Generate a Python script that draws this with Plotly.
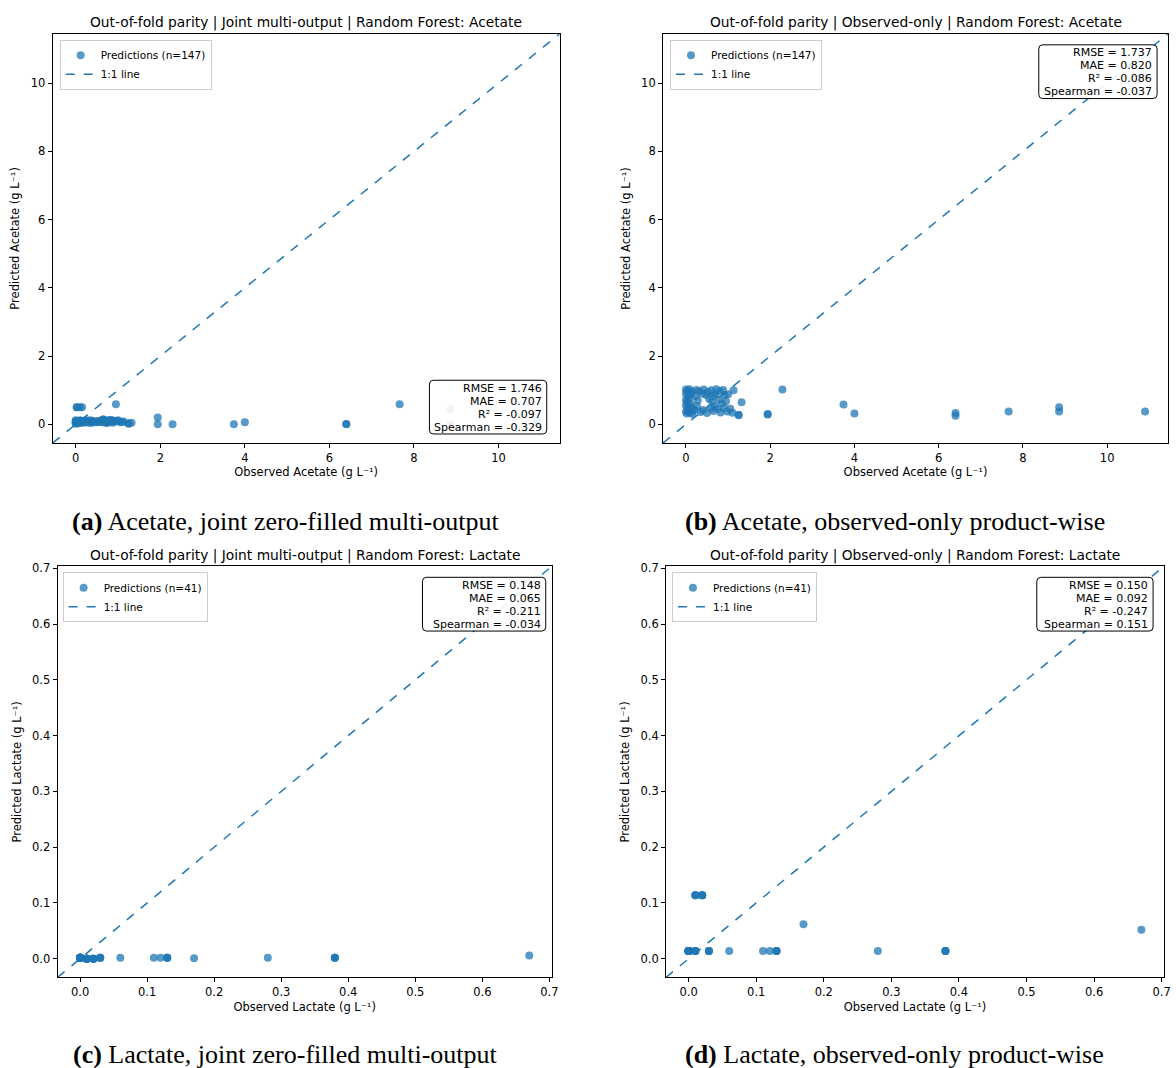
import plotly.graph_objects as go

W, H = 1176, 1068
BLUE = "#1f77b4"

# ---------------- data ----------------
acetate_observed = [
    0.00, 0.03, 0.08, 0.15, 0.25, 0.32, 0.42, 0.52, 0.60, 0.72, 0.80, 0.88, 1.13,
    0.00, 0.05, 0.12, 0.22, 0.38, 0.48, 0.65, 0.70, 0.92, 1.00,
    0.00, 0.02, 0.07, 0.10, 0.28, 0.55, 0.62, 0.78, 0.85, 0.95,
    0.00, 0.04, 0.10, 0.18, 0.26, 0.58, 0.68, 0.75, 0.90, 1.05,
    0.00, 0.02, 0.06, 0.10, 0.15, 0.20, 0.35, 0.40, 0.50, 0.65, 0.82, 0.98, 1.10,
    1.25, 1.25, 1.32, 1.94, 1.94, 2.29, 3.74, 4.00, 6.40, 6.40, 7.66, 8.86, 8.86, 10.90,
]
acetate_pred_joint = [
    0.05, 0.50, 0.10, 0.08, 0.12, 0.04, 0.09, 0.06, 0.11, 0.07, 0.13, 0.05, 0.08,
    0.08, 0.03, 0.11, 0.06, 0.10, 0.07, 0.14, 0.05, 0.09, 0.12,
    0.12, 0.50, 0.09, 0.04, 0.08, 0.10, 0.06, 0.11, 0.13, 0.59,
    0.02, 0.07, 0.50, 0.05, 0.10, 0.08, 0.12, 0.04, 0.10, 0.06,
    0.06, 0.09, 0.03, 0.11, 0.50, 0.07, 0.12, 0.05, 0.09, 0.14, 0.08, 0.10, 0.07,
    0.02, 0.03, 0.05, 0.20, 0.00, 0.00, 0.00, 0.06, 0.00, 0.01, 0.59, 0.44, 0.00, 0.10,
]
acetate_pred_observed_only = [
    1.02, 0.98, 1.03, 0.96, 1.01, 0.97, 1.02, 0.95, 1.00, 1.03, 0.97, 1.01, 1.00,
    0.90, 0.84, 0.88, 0.82, 0.90, 0.86, 0.83, 0.89, 0.85, 0.88,
    0.72, 0.65, 0.76, 0.62, 0.70, 0.74, 0.66, 0.72, 0.62, 0.68,
    0.55, 0.48, 0.52, 0.45, 0.54, 0.47, 0.52, 0.45, 0.48, 0.46,
    0.38, 0.32, 0.40, 0.35, 0.30, 0.41, 0.36, 0.42, 0.33, 0.39, 0.35, 0.38, 0.34,
    0.27, 0.28, 0.65, 0.29, 0.30, 1.02, 0.58, 0.32, 0.33, 0.25, 0.38, 0.50, 0.38, 0.38,
]

lactate_observed = [
    0.00, 0.00, 0.00, 0.00, 0.00, 0.00, 0.00, 0.00, 0.00, 0.00, 0.00, 0.00, 0.00, 0.00, 0.00, 0.00,
    0.01, 0.01, 0.01, 0.01, 0.01, 0.01,
    0.02, 0.02, 0.02, 0.02,
    0.03, 0.03, 0.03,
    0.06, 0.11, 0.12, 0.13, 0.13, 0.13, 0.17, 0.28, 0.38, 0.38, 0.38, 0.67,
]
lactate_pred_joint = [
    0.002, 0.002, 0.002, 0.002, 0.002, 0.002, 0.002, 0.002, 0.002, 0.002, 0.002, 0.002, 0.002, 0.002, 0.002, 0.002,
    0.000, 0.000, 0.000, 0.000, 0.000, 0.000,
    0.000, 0.000, 0.000, 0.000,
    0.002, 0.002, 0.002,
    0.002, 0.002, 0.002, 0.002, 0.002, 0.002, 0.001, 0.002, 0.002, 0.002, 0.002, 0.006,
]
lactate_pred_observed_only = [
    0.014, 0.014, 0.014, 0.014, 0.014, 0.014, 0.014, 0.014, 0.014, 0.014, 0.014, 0.014, 0.014, 0.014, 0.014, 0.014,
    0.114, 0.114, 0.114, 0.014, 0.014, 0.014,
    0.114, 0.114, 0.114, 0.114,
    0.014, 0.014, 0.014,
    0.014, 0.014, 0.014, 0.014, 0.014, 0.014, 0.062, 0.014, 0.014, 0.014, 0.014, 0.052,
]

acetate_ticks = [0, 2, 4, 6, 8, 10]
acetate_tick_labels = ["0", "2", "4", "6", "8", "10"]
lactate_ticks = [0.0, 0.1, 0.2, 0.3, 0.4, 0.5, 0.6, 0.7]
lactate_tick_labels = ["0.0", "0.1", "0.2", "0.3", "0.4", "0.5", "0.6", "0.7"]

panel_titles = [
    "Out-of-fold parity | Joint multi-output | Random Forest: Acetate",
    "Out-of-fold parity | Observed-only | Random Forest: Acetate",
    "Out-of-fold parity | Joint multi-output | Random Forest: Lactate",
    "Out-of-fold parity | Observed-only | Random Forest: Lactate",
]
panel_captions = [
    "<b>(a)</b> Acetate, joint zero-filled multi-output",
    "<b>(b)</b> Acetate, observed-only product-wise",
    "<b>(c)</b> Lactate, joint zero-filled multi-output",
    "<b>(d)</b> Lactate, observed-only product-wise",
]
panel_stats = [
    ["RMSE = 1.746", "MAE = 0.707", "R² = -0.097", "Spearman = -0.329"],
    ["RMSE = 1.737", "MAE = 0.820", "R² = -0.086", "Spearman = -0.037"],
    ["RMSE = 0.148", "MAE = 0.065", "R² = -0.211", "Spearman = -0.034"],
    ["RMSE = 0.150", "MAE = 0.092", "R² = -0.247", "Spearman = 0.151"],
]
sample_counts = [147, 147, 41, 41]

# ---------------- layout geometry (pixels) ----------------
panels = [
    dict(x0=53, x1=563, y0=29, y1=440, obs=acetate_observed, pred=acetate_pred_joint,
         ticks=acetate_ticks, labels=acetate_tick_labels, name="Acetate",
         box=(432, 377, 550, 431), leg_xy=(60, 35), title_y=18, cap_xy=(287, 519)),
    dict(x0=667, x1=1175, y0=29, y1=440, obs=acetate_observed, pred=acetate_pred_observed_only,
         ticks=acetate_ticks, labels=acetate_tick_labels, name="Acetate",
         box=(1045, 40, 1164, 94), leg_xy=(674, 35), title_y=18, cap_xy=(900, 519)),
    dict(x0=58, x1=555, y0=564, y1=977, obs=lactate_observed, pred=lactate_pred_joint,
         ticks=lactate_ticks, labels=lactate_tick_labels, name="Lactate",
         box=(425, 575, 549, 629), leg_xy=(63, 570), title_y=553, cap_xy=(287, 1054)),
    dict(x0=670, x1=1171, y0=564, y1=977, obs=lactate_observed, pred=lactate_pred_observed_only,
         ticks=lactate_ticks, labels=lactate_tick_labels, name="Lactate",
         box=(1043, 575, 1160, 629), leg_xy=(676, 570), title_y=553, cap_xy=(900, 1054)),
]


def px(x):
    return x / W


def py(y):
    return 1 - y / H


def rounded_box_path(x0, y0, x1, y1, r=4):
    pts = [
        f"M {px(x0 + r)} {py(y0)}",
        f"L {px(x1 - r)} {py(y0)}",
        f"Q {px(x1)} {py(y0)} {px(x1)} {py(y0 + r)}",
        f"L {px(x1)} {py(y1 - r)}",
        f"Q {px(x1)} {py(y1)} {px(x1 - r)} {py(y1)}",
        f"L {px(x0 + r)} {py(y1)}",
        f"Q {px(x0)} {py(y1)} {px(x0)} {py(y1 - r)}",
        f"L {px(x0)} {py(y0 + r)}",
        f"Q {px(x0)} {py(y0)} {px(x0 + r)} {py(y0)}",
        "Z",
    ]
    return " ".join(pts)


fig = go.Figure()
annotations = []
shapes = []
layout_updates = {}

for i, p in enumerate(panels):
    k = "" if i == 0 else str(i + 1)
    xa, ya = "x" + k, "y" + k
    leg = "legend" + k

    vals = p["obs"] + p["pred"]
    lo, hi = min(vals), max(vals)
    pad = 0.05 * (hi - lo)
    lims = [lo - pad, hi + pad]

    fig.add_trace(go.Scatter(
        x=p["obs"], y=p["pred"], mode="markers", xaxis=xa, yaxis=ya, legend=leg,
        name=f"Predictions (n={sample_counts[i]})",
        marker=dict(color=BLUE, size=8, opacity=0.75, line=dict(width=0)),
    ))
    fig.add_trace(go.Scatter(
        x=lims, y=lims, mode="lines", xaxis=xa, yaxis=ya, legend=leg,
        name="1:1 line", line=dict(color=BLUE, dash="dash", width=1.5),
    ))

    axis_common = dict(
        range=lims, showline=True, linecolor="black", linewidth=1, mirror=True,
        ticks="outside", ticklen=4, tickcolor="black", tickwidth=1,
        tickfont=dict(family="DejaVu Sans", size=11.5, color="black"),
        showgrid=False, zeroline=False,
        tickvals=p["ticks"], ticktext=p["labels"],
    )
    layout_updates["xaxis" + k] = dict(
        axis_common, domain=[px(p["x0"]), px(p["x1"])], anchor=ya,
        title=dict(text=f"Observed {p['name']} (g L⁻¹)", standoff=4,
                   font=dict(family="DejaVu Sans", size=11.5, color="black")),
    )
    layout_updates["yaxis" + k] = dict(
        axis_common, domain=[py(p["y1"]), py(p["y0"])], anchor=xa,
        title=dict(text=f"Predicted {p['name']} (g L⁻¹)", standoff=8,
                   font=dict(family="DejaVu Sans", size=11.5, color="black")),
    )
    layout_updates[leg] = dict(
        x=px(p["leg_xy"][0]), y=py(p["leg_xy"][1]), xanchor="left", yanchor="top",
        xref="paper", yref="paper",
        bgcolor="rgba(255,255,255,0.85)", bordercolor="#cccccc", borderwidth=1,
        font=dict(family="DejaVu Sans", size=10.5, color="black"),
        itemwidth=30, tracegroupgap=0,
    )

    # title
    annotations.append(dict(
        text=panel_titles[i], xref="paper", yref="paper",
        x=px((p["x0"] + p["x1"]) / 2), y=py(p["title_y"]),
        xanchor="center", yanchor="middle", showarrow=False,
        font=dict(family="DejaVu Sans", size=13.8, color="black"),
    ))
    # stats box (rounded frame + right-aligned lines)
    bx0, by0, bx1, by1 = p["box"]
    shapes.append(dict(
        type="path", xref="paper", yref="paper", layer="above",
        path=rounded_box_path(bx0, by0, bx1, by1),
        fillcolor="rgba(255,255,255,0.9)", line=dict(color="black", width=1),
    ))
    for j, line in enumerate(panel_stats[i]):
        annotations.append(dict(
            text=line, xref="paper", yref="paper",
            x=px(bx1 - 3), y=py(by0 + 8 + 13 * j), xanchor="right", yanchor="middle",
            showarrow=False,
            font=dict(family="DejaVu Sans", size=11, color="black"),
        ))
    # caption
    cx, cy = p["cap_xy"]
    annotations.append(dict(
        text=panel_captions[i], xref="paper", yref="paper",
        x=px(cx), y=py(cy), xanchor="center", yanchor="middle", showarrow=False,
        font=dict(family="Liberation Serif", size=26, color="black"),
    ))

fig.update_layout(
    width=W, height=H, margin=dict(l=0, r=0, t=0, b=0),
    paper_bgcolor="white", plot_bgcolor="white",
    annotations=annotations, shapes=shapes, showlegend=True,
    **layout_updates,
)

fig.write_html(
    "out.html",
    config={"displayModeBar": False},
    post_script="document.body.style.margin='0';document.body.style.overflow='hidden';",
)
